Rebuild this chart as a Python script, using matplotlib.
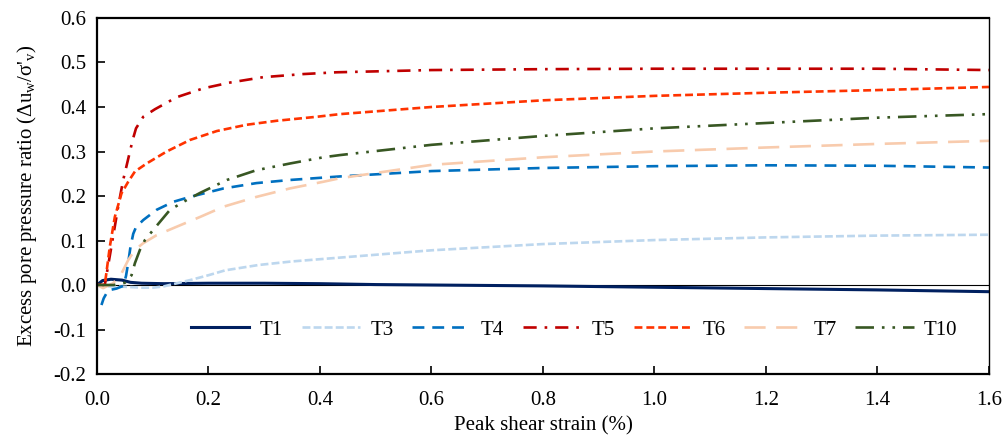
import numpy as np
import matplotlib
matplotlib.use("Agg")
import matplotlib.pyplot as plt

plt.rcParams['font.family'] = ['Liberation Serif', 'DejaVu Serif']
plt.rcParams['mathtext.fontset'] = 'custom'
plt.rcParams['mathtext.rm'] = 'Liberation Serif'
plt.rcParams['mathtext.it'] = 'Liberation Serif:italic'

# peak shear strain (%) vs excess pore pressure ratio for each test
t1_x = [0, 0.01, 0.025, 0.045, 0.06, 0.08, 0.12, 0.2, 0.3, 0.4, 0.5, 0.6, 0.8, 1.0, 1.2, 1.4, 1.6]
t1_y = [0, 0.010, 0.013, 0.011, 0.006, 0.004, 0.003, 0.004, 0.004, 0.003, 0.001, 0.0, -0.002, -0.005, -0.008, -0.011, -0.015]

t3_x = [0, 0.02, 0.05, 0.08, 0.1, 0.12, 0.14, 0.17, 0.2, 0.23, 0.29, 0.35, 0.44, 0.6, 0.8, 1.0, 1.2, 1.4, 1.6]
t3_y = [0, -0.003, -0.004, -0.006, -0.006, -0.003, 0.003, 0.012, 0.022, 0.033, 0.045, 0.053, 0.062, 0.078, 0.092, 0.101, 0.107, 0.111, 0.113]

t4_x = [0.008, 0.012, 0.02, 0.035, 0.047, 0.052, 0.056, 0.06, 0.065, 0.07, 0.083, 0.107, 0.137, 0.167, 0.227, 0.286, 0.346, 0.436, 0.6, 0.8, 1.0, 1.2, 1.4, 1.6]
t4_y = [-0.045, -0.03, -0.012, -0.008, -0.002, 0.02, 0.05, 0.085, 0.115, 0.13, 0.146, 0.169, 0.187, 0.198, 0.217, 0.229, 0.236, 0.244, 0.256, 0.263, 0.267, 0.269, 0.268, 0.264]

t5_x = [0, 0.014, 0.025, 0.038, 0.047, 0.058, 0.064, 0.07, 0.083, 0.104, 0.143, 0.191, 0.239, 0.298, 0.37, 0.43, 0.6, 0.8, 1.0, 1.2, 1.4, 1.6]
t5_y = [0, 0.0, 0.08, 0.176, 0.236, 0.294, 0.326, 0.352, 0.378, 0.395, 0.422, 0.442, 0.455, 0.467, 0.474, 0.478, 0.483, 0.485, 0.486, 0.486, 0.486, 0.483]

t6_x = [0, 0.014, 0.023, 0.032, 0.044, 0.056, 0.068, 0.089, 0.125, 0.167, 0.215, 0.268, 0.322, 0.394, 0.436, 0.6, 0.8, 1.0, 1.2, 1.4, 1.6]
t6_y = [0, 0.0, 0.086, 0.153, 0.206, 0.232, 0.255, 0.273, 0.3, 0.326, 0.346, 0.36, 0.369, 0.378, 0.384, 0.4, 0.415, 0.425, 0.432, 0.438, 0.445]

t7_x = [0, 0.011, 0.029, 0.044, 0.056, 0.068, 0.083, 0.107, 0.143, 0.185, 0.227, 0.286, 0.346, 0.406, 0.436, 0.6, 0.8, 1.0, 1.2, 1.4, 1.6]
t7_y = [0, -0.007, 0.004, 0.026, 0.056, 0.079, 0.094, 0.112, 0.131, 0.153, 0.176, 0.198, 0.217, 0.232, 0.24, 0.27, 0.287, 0.3, 0.309, 0.317, 0.324]

t10_x = [0, 0.03, 0.05, 0.062, 0.068, 0.077, 0.086, 0.101, 0.131, 0.161, 0.185, 0.233, 0.286, 0.346, 0.406, 0.436, 0.6, 0.8, 1.0, 1.2, 1.4, 1.6]
t10_y = [0, 0.0, 0.005, 0.022, 0.049, 0.079, 0.101, 0.124, 0.169, 0.191, 0.207, 0.236, 0.258, 0.273, 0.287, 0.292, 0.315, 0.335, 0.352, 0.364, 0.376, 0.384]

x_ticks = [0.0, 0.2, 0.4, 0.6, 0.8, 1.0, 1.2, 1.4, 1.6]
y_ticks = [-0.2, -0.1, 0.0, 0.1, 0.2, 0.3, 0.4, 0.5, 0.6]

fs = 15

fig = plt.figure(figsize=(10.04, 4.42), dpi=100)
ax = fig.add_axes([0.0966, 0.1538, 0.8884, 0.8055])

ax.axhline(0, color='black', lw=0.8, zorder=1)

ax.plot(t1_x, t1_y, color='#002060', lw=2.2, label='T1')
ax.plot(t3_x, t3_y, color='#BDD7EE', lw=1.9, dashes=(3, 1.2), label='T3')
ax.plot(t4_x, t4_y, color='#0070C0', lw=1.9, dashes=(4.5, 3), label='T4')
ax.plot(t5_x, t5_y, color='#C00000', lw=1.9, dashes=(5, 3, 1, 3), label='T5')
ax.plot(t6_x, t6_y, color='#FF3300', lw=1.9, dashes=(3, 1.5), label='T6')
ax.plot(t7_x, t7_y, color='#F8CBAD', lw=1.9, dashes=(8, 4), label='T7')
ax.plot(t10_x, t10_y, color='#385723', lw=1.9, dashes=(7, 3, 1, 3, 1, 3), label='T10')

ax.set_xlim(0, 1.6)
ax.set_ylim(-0.2, 0.6)
ax.set_xticks(x_ticks)
ax.set_yticks(y_ticks)
ax.set_xticklabels([f'{v:.1f}' for v in x_ticks])
ax.set_yticklabels([f'{v:.1f}' for v in y_ticks])
ax.tick_params(axis='x', direction='in', length=6, width=1.2, labelsize=fs, pad=12)
ax.tick_params(axis='y', direction='in', length=6, width=1.2, labelsize=fs, pad=8)

for s in ['top', 'bottom', 'left']:
    ax.spines[s].set_linewidth(1.6)
ax.spines['right'].set_linewidth(1.0)

ax.set_xlabel('Peak shear strain (%)', fontsize=fs, labelpad=5)
ax.set_ylabel("Excess pore pressure ratio (Δu$_\\mathregular{w}$/σ'$_\\mathregular{v}$)",
              fontsize=fs, labelpad=10)

ax.legend(ncol=7, loc='center', bbox_to_anchor=(0.535, 0.124), frameon=False,
          fontsize=fs, handlelength=2.8, handletextpad=0.5, columnspacing=0.9)

fig.savefig('out.png', dpi=100)
